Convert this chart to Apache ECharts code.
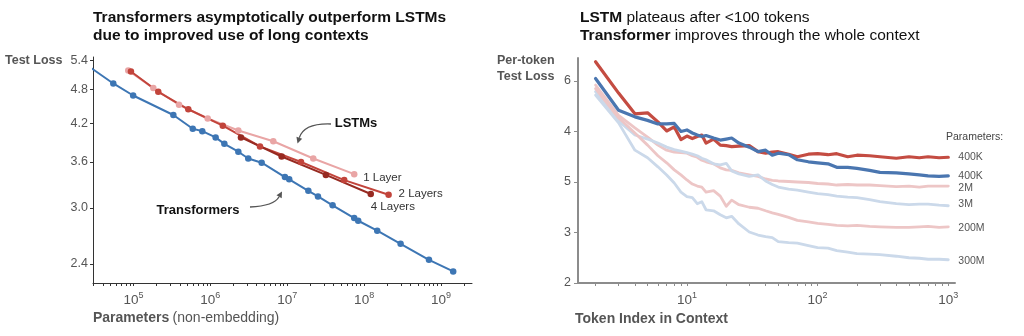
<!DOCTYPE html>
<html>
<head>
<meta charset="utf-8">
<script src="https://cdn.jsdelivr.net/npm/echarts@6/dist/echarts.min.js"></script>
<style>
  html, body { margin: 0; padding: 0; background: #fff; }
  #chart { width: 1024px; height: 336px; }
</style>
</head>
<body>
<div id="chart"></div>
<script>
// ---- Left panel: test loss vs. non-embedding parameters (log-log) ----
const transformerParams = [2.0e4, 5.46e4, 9.9e4, 3.3e5, 5.9e5, 7.85e5, 1.17e6, 1.52e6, 2.31e6, 3.11e6, 4.65e6,
  9.33e6, 1.06e7, 1.88e7, 2.51e7, 3.89e7, 7.43e7, 8.37e7, 1.48e8, 2.98e8, 6.97e8, 1.44e9];
const transformerLoss = [5.40, 4.92, 4.69, 4.34, 4.11, 4.07, 3.97, 3.87, 3.75, 3.65, 3.59,
  3.39, 3.36, 3.21, 3.14, 3.03, 2.88, 2.85, 2.74, 2.60, 2.44, 2.33];
const lstm1Params = [8.55e4, 1.81e5, 3.91e5, 9.23e5, 2.31e6, 6.58e6, 2.18e7, 7.43e7];
const lstm1Loss = [5.18, 4.83, 4.52, 4.28, 4.08, 3.91, 3.65, 3.43];
const lstm2Params = [9.27e4, 2.10e5, 5.16e5, 1.45e6, 4.42e6, 1.51e7, 5.51e7, 2.08e8];
const lstm2Loss = [5.16, 4.76, 4.44, 4.16, 3.83, 3.60, 3.35, 3.16];
const lstm4Params = [2.50e6, 8.45e6, 3.18e7, 1.22e8];
const lstm4Loss = [3.97, 3.68, 3.42, 3.17];
const lossTicks = [2.4, 3.0, 3.6, 4.2, 4.8, 5.4];
const paramMajorTicks = [1e5, 1e6, 1e7, 1e8, 1e9];

// ---- Right panel: per-token test loss vs. token index ----
const tokenIndex = [2, 3, 4, 5, 6, 7, 8, 9, 10, 11, 12, 13, 14, 16, 18, 20, 22, 25, 30, 35, 40, 45, 50, 60, 70, 85,
  100, 120, 140, 170, 200, 250, 300, 400, 500, 600, 700, 850, 1000];
const lstm400K = [6.38, 5.76, 5.35, 5.37, 5.19, 5.01, 5.09, 4.84, 4.91, 4.86, 4.90, 4.93, 4.77, 4.85, 4.73, 4.72, 4.70,
  4.71, 4.72, 4.60, 4.57, 4.59, 4.60, 4.55, 4.50, 4.55, 4.56, 4.54, 4.56, 4.50, 4.53, 4.52, 4.50, 4.47, 4.50, 4.48,
  4.50, 4.48, 4.49];
const transformer400K = [6.05, 5.42, 5.29, 5.22, 5.15, 5.15, 5.16, 5.00, 5.03, 4.97, 4.93, 4.90, 4.92, 4.87, 4.83,
  4.85, 4.87, 4.77, 4.69, 4.60, 4.63, 4.53, 4.57, 4.54, 4.44, 4.40, 4.38, 4.36, 4.29, 4.29, 4.27, 4.23, 4.19, 4.18,
  4.16, 4.14, 4.12, 4.11, 4.12];
const lstm2M = [5.92, 5.32, 5.07, 4.89, 4.73, 4.63, 4.59, 4.58, 4.57, 4.52, 4.49, 4.43, 4.40, 4.36, 4.28, 4.24, 4.23,
  4.18, 4.14, 4.11, 4.06, 4.03, 4.02, 4.01, 4.00, 3.99, 3.97, 3.96, 3.94, 3.95, 3.94, 3.94, 3.93, 3.91, 3.92, 3.90,
  3.92, 3.92, 3.92];
const transformer3M = [5.79, 5.21, 4.93, 4.85, 4.77, 4.69, 4.64, 4.61, 4.58, 4.55, 4.52, 4.47, 4.44, 4.36, 4.34, 4.37,
  4.22, 4.16, 4.11, 4.14, 4.02, 3.95, 3.90, 3.86, 3.84, 3.80, 3.77, 3.75, 3.72, 3.70, 3.69, 3.65, 3.61, 3.57, 3.55,
  3.56, 3.56, 3.54, 3.53];
const lstm200M = [5.85, 5.27, 4.97, 4.73, 4.52, 4.38, 4.24, 4.14, 4.04, 3.96, 3.92, 3.90, 3.80, 3.83, 3.72, 3.52, 3.64,
  3.55, 3.50, 3.48, 3.43, 3.39, 3.36, 3.30, 3.24, 3.21, 3.18, 3.16, 3.14, 3.13, 3.14, 3.12, 3.11, 3.10, 3.10, 3.11,
  3.12, 3.10, 3.11];
const transformer300M = [5.72, 5.17, 4.63, 4.48, 4.30, 4.14, 3.98, 3.80, 3.71, 3.69, 3.57, 3.61, 3.45, 3.43, 3.35,
  3.29, 3.32, 3.17, 3.01, 2.95, 2.92, 2.90, 2.82, 2.80, 2.79, 2.74, 2.70, 2.69, 2.64, 2.61, 2.58, 2.57, 2.56, 2.53,
  2.50, 2.49, 2.47, 2.47, 2.46];
const tokenYTickValues = [2, 3, 4, 5, 6];
const tokenYTickText = ['2', '3', '5', '4', '6'];
const tokenMajorTicks = [10, 100, 1000];

const FONT = '"Liberation Sans", Arial, Helvetica, sans-serif';
const GREY = '#555';
const INK = '#111';

// log-axis minor ticks at 1..9 x 10^n inside [lo, hi]
function logTicks(lo, hi) {
  const out = [];
  for (let e = Math.floor(Math.log10(lo)); e <= Math.ceil(Math.log10(hi)); e++) {
    for (let k = 1; k <= 9; k++) {
      const v = k * Math.pow(10, e);
      if (v >= lo && v <= hi) out.push(v);
    }
  }
  return out;
}

function powerLabel(v) {
  return '{b|10}{s|' + Math.round(Math.log10(v)) + '}';
}
const powerRich = {
  b: { fontSize: 13.5, color: GREY, fontFamily: FONT, lineHeight: 18 },
  s: { fontSize: 9, color: GREY, fontFamily: FONT, lineHeight: 10, verticalAlign: 'top' }
};

const pairs = (xs, ys) => xs.map((x, i) => [x, ys[i]]);

const leftX = [29740, 2.53e9];
const rightX = [1.468, 1125];

const C_BLUE = '#3d76b4';
const C_L1 = '#e9a5a5';
const C_L2 = '#c2443b';
const C_L4 = '#972a21';
const R_RED = '#c44c42';
const R_BLUE = '#4a76b0';
const R_PINK = '#edc6c6';
const R_LBLUE = '#cbd9ea';

function leftSeries(name, xs, ys, color, label) {
  return {
    name, type: 'line', xAxisIndex: 0, yAxisIndex: 0,
    data: pairs(xs, ys),
    symbol: 'circle', symbolSize: 6.5, showSymbol: true,
    lineStyle: { color, width: 2 },
    itemStyle: { color },
    clip: true,
    endLabel: label
  };
}

function rightSeries(name, values, color, width, labelText, offset) {
  return {
    name, type: 'line', xAxisIndex: 1, yAxisIndex: 1,
    data: pairs(tokenIndex, values),
    showSymbol: false, symbol: 'none',
    lineStyle: { color, width, join: 'round', cap: 'round' },
    endLabel: {
      show: true, formatter: labelText, color: GREY, fontSize: 10.5, fontFamily: FONT,
      distance: 10, offset: offset || [0, 0]
    }
  };
}

const endLabelStyle = { show: true, color: '#333', fontSize: 11.5, fontFamily: FONT };

const option = {
  animation: false,
  backgroundColor: '#fff',
  textStyle: { fontFamily: FONT },
  title: [
    {
      left: 93, top: 9, padding: 0,
      text: 'Transformers asymptotically outperform LSTMs\ndue to improved use of long contexts',
      textStyle: { fontSize: 15.5, fontWeight: 'bold', lineHeight: 18, color: INK, fontFamily: FONT }
    },
    {
      left: 580, top: 9, padding: 0,
      text: '{b|LSTM} plateaus after <100 tokens\n{b|Transformer} improves through the whole context',
      textStyle: {
        fontSize: 15.5, fontWeight: 'normal', lineHeight: 18, color: INK, fontFamily: FONT,
        rich: { b: { fontSize: 15.5, fontWeight: 'bold', lineHeight: 18, color: INK, fontFamily: FONT } }
      }
    }
  ],
  grid: [
    { left: 93, top: 57, width: 379, height: 226 },
    { left: 578, top: 58, width: 377, height: 225 }
  ],
  xAxis: [
    {
      type: 'log', logBase: 10, gridIndex: 0, min: leftX[0], max: leftX[1],
      axisLine: { lineStyle: { color: '#333', width: 1 } },
      axisTick: { customValues: logTicks(leftX[0], leftX[1]), length: 3, lineStyle: { color: '#333' } },
      axisLabel: { customValues: paramMajorTicks, formatter: powerLabel, rich: powerRich, margin: 8 },
      splitLine: { show: false }, minorTick: { show: false }
    },
    {
      type: 'log', logBase: 10, gridIndex: 1, min: rightX[0], max: rightX[1],
      axisLine: { lineStyle: { color: '#8c8c8c', width: 2 } },
      axisTick: { customValues: logTicks(rightX[0], rightX[1]), length: 3, lineStyle: { color: '#8c8c8c' } },
      axisLabel: { customValues: tokenMajorTicks, formatter: powerLabel, rich: powerRich, margin: 8 },
      splitLine: { show: false }
    }
  ],
  yAxis: [
    {
      type: 'log', logBase: 10, gridIndex: 0, min: 2.225, max: 5.466,
      axisLine: { show: true, lineStyle: { color: '#333', width: 1 } },
      axisTick: { show: true, customValues: lossTicks, length: 3, lineStyle: { color: '#333' } },
      axisLabel: {
        customValues: lossTicks, formatter: v => v.toFixed(1),
        color: GREY, fontSize: 12.5, fontFamily: FONT, margin: 5
      },
      splitLine: { show: false }
    },
    {
      type: 'value', gridIndex: 1, min: 2, max: 6.455,
      axisLine: { show: true, lineStyle: { color: '#8c8c8c', width: 2 } },
      axisTick: { show: true, customValues: tokenYTickValues, length: 4, lineStyle: { color: '#8c8c8c' } },
      axisLabel: {
        customValues: tokenYTickValues,
        formatter: v => tokenYTickText[tokenYTickValues.indexOf(Math.round(v))],
        color: GREY, fontSize: 12.5, fontFamily: FONT, margin: 7
      },
      splitLine: { show: false }
    }
  ],
  series: [
    leftSeries('LSTM 1 Layer', lstm1Params, lstm1Loss, C_L1,
      Object.assign({}, endLabelStyle, { formatter: '1 Layer', distance: 9, offset: [0, 4] })),
    leftSeries('LSTM 2 Layers', lstm2Params, lstm2Loss, C_L2,
      Object.assign({}, endLabelStyle, { formatter: '2 Layers', distance: 10, offset: [0, -1] })),
    leftSeries('LSTM 4 Layers', lstm4Params, lstm4Loss, C_L4,
      Object.assign({}, endLabelStyle, { formatter: '4 Layers', distance: 0, offset: [0, 13] })),
    leftSeries('Transformers', transformerParams, transformerLoss, C_BLUE, { show: false }),

    rightSeries('LSTM 2M', lstm2M, R_PINK, 2.8, '2M', [0, 2]),
    rightSeries('Transformer 3M', transformer3M, R_LBLUE, 2.8, '3M', [0, -2]),
    rightSeries('LSTM 200M', lstm200M, R_PINK, 2.8, '200M', [0, 1]),
    rightSeries('Transformer 300M', transformer300M, R_LBLUE, 2.8, '300M', [0, 1]),
    rightSeries('LSTM 400K', lstm400K, R_RED, 3.2, '400K', [0, 0]),
    rightSeries('Transformer 400K', transformer400K, R_BLUE, 3.2, '400K', [0, 0])
  ]
};

// curved annotation arrow: quadratic curve plus a filled head at the end point
function curvedArrow(x1, y1, cx, cy, x2, y2, color) {
  const dx = x2 - cx, dy = y2 - cy;
  const len = Math.hypot(dx, dy) || 1;
  const ux = dx / len, uy = dy / len;
  const hl = 6, hw = 3;
  const bx = x2 - ux * hl, by = y2 - uy * hl;
  return [
    {
      type: 'bezierCurve',
      shape: { x1, y1, x2: bx, y2: by, cpx1: cx, cpy1: cy },
      style: { stroke: color, lineWidth: 1.3, fill: null }
    },
    {
      type: 'polygon',
      shape: { points: [[x2, y2], [bx - uy * hw, by + ux * hw], [bx + uy * hw, by - ux * hw]] },
      style: { fill: color }
    }
  ];
}

function label(x, y, text, opts) {
  return {
    type: 'text', x, y,
    style: Object.assign({
      text, fill: GREY, fontFamily: FONT, fontSize: 12.5,
      align: 'left', verticalAlign: 'middle'
    }, opts || {})
  };
}

option.graphic = [
  label(5, 61, 'Test Loss', { fontWeight: 'bold', fontSize: 12.5 }),
  label(497, 61, 'Per-token', { fontWeight: 'bold', fontSize: 12.5 }),
  label(497, 77, 'Test Loss', { fontWeight: 'bold', fontSize: 12.5 }),
  {
    type: 'text', x: 93, y: 318,
    style: {
      text: '{b|Parameters} {n|(non-embedding)}', verticalAlign: 'middle', align: 'left',
      rich: {
        b: { fontSize: 14, fontWeight: 'bold', fill: GREY, fontFamily: FONT },
        n: { fontSize: 14, fontWeight: 'normal', fill: GREY, fontFamily: FONT }
      }
    }
  },
  label(575, 319, 'Token Index in Context', { fontWeight: 'bold', fontSize: 14 }),
  label(946, 137, 'Parameters:', { fontSize: 10.5, fill: '#444' }),
  label(356, 123, 'LSTMs', { fontWeight: 'bold', fontSize: 13, fill: INK, align: 'center' }),
  label(198, 210, 'Transformers', { fontWeight: 'bold', fontSize: 13, fill: INK, align: 'center' })
].concat(
  curvedArrow(331, 124, 304, 123, 297.5, 143.5, '#555'),
  curvedArrow(250, 207, 274, 206, 282, 191.5, '#555')
);

const chart = echarts.init(document.getElementById('chart'), null, { renderer: 'canvas' });
chart.setOption(option);
</script>
</body>
</html>
